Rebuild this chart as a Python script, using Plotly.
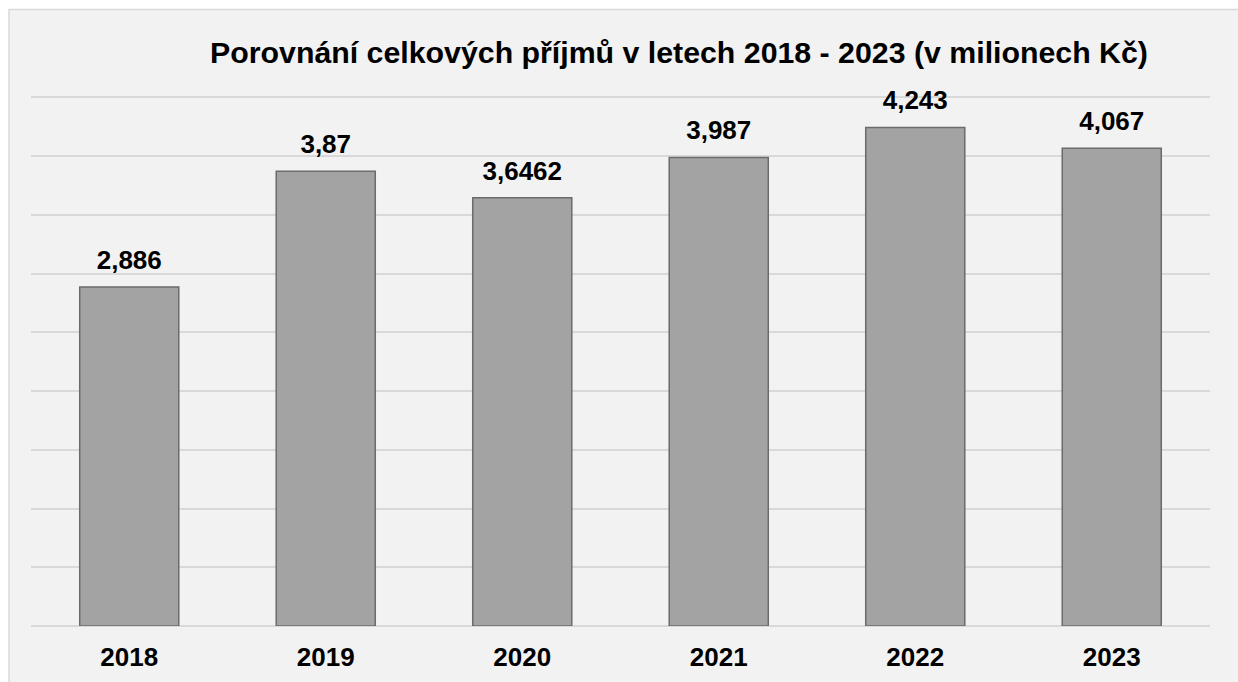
import plotly.graph_objects as go

years = ["2018", "2019", "2020", "2021", "2022", "2023"]
values = [2.886, 3.87, 3.6462, 3.987, 4.243, 4.067]
labels = ["2,886", "3,87", "3,6462", "3,987", "4,243", "4,067"]
title_text = "Porovnání celkových příjmů v letech 2018 - 2023 (v milionech Kč)"

W, H = 1238, 682
YMAX = 4.52
scale = 529 / 4.5
ph = YMAX * scale
ml, mr, mb = 31, 28, 56
mt = H - mb - ph
pw = W - ml - mr

FONT = "Arial, 'Liberation Sans', sans-serif"

fig = go.Figure()
fig.add_trace(go.Bar(
    x=years, y=values,
    marker=dict(color="#a3a3a3", line=dict(color="#6b6b6b", width=1.5)),
    hoverinfo="skip",
))
# value labels above bars (invisible markers give the offset)
fig.add_trace(go.Scatter(
    x=years, y=values, mode="markers+text",
    text=["<b>%s</b>" % t for t in labels],
    textposition="top center",
    marker=dict(size=17, color="rgba(0,0,0,0)"),
    textfont=dict(family=FONT, size=26, color="#000000"),
    cliponaxis=False,
    hoverinfo="skip",
))

# frame background
fig.add_shape(
    type="rect", xref="paper", yref="paper", layer="below",
    x0=(9 - ml) / pw, x1=(W + 20 - ml) / pw,
    y0=(mt + ph - (H + 20)) / ph, y1=(mt + ph - 9) / ph,
    fillcolor="#f2f2f2", line=dict(color="#d9d9d9", width=1.5),
)

fig.update_layout(
    width=W, height=H,
    margin=dict(l=ml, r=mr, t=mt, b=mb, pad=0, autoexpand=False),
    paper_bgcolor="#ffffff",
    plot_bgcolor="rgba(0,0,0,0)",
    bargap=0.496,
    showlegend=False,
    title=dict(
        text="<b>%s</b>" % title_text,
        x=679 / W, xref="container", xanchor="center",
        y=1 - 52 / H, yref="container", yanchor="middle",
        font=dict(family=FONT, size=30.3, color="#000000"),
    ),
    xaxis=dict(
        type="category", automargin=False,
        showgrid=False, showline=False, zeroline=False,
        ticks="outside", ticklen=8, tickcolor="rgba(0,0,0,0)",
        tickfont=dict(family=FONT, size=26, color="#000000"),
        tickprefix="<b>", ticksuffix="</b>",
    ),
    yaxis=dict(
        range=[0, YMAX], tickvals=[0.5 * i for i in range(10)],
        showticklabels=False, automargin=False,
        showgrid=True, gridcolor="#d9d9d9", gridwidth=1.5,
        zeroline=True, zerolinecolor="#d9d9d9", zerolinewidth=1.5,
        showline=False, ticks="",
    ),
)

fig.write_html(
    "out.html",
    config={"displayModeBar": False},
    post_script="document.body.style.margin='0';document.body.style.overflow='hidden';",
)
